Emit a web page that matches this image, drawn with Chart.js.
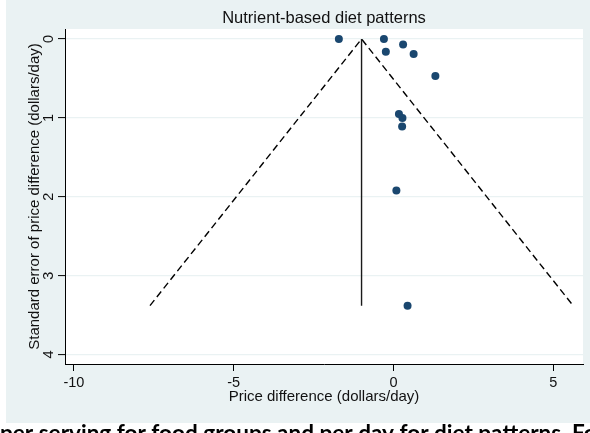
<!DOCTYPE html>
<html>
<head>
<meta charset="utf-8">
<script src="https://cdn.jsdelivr.net/npm/chart.js@4.4.1/dist/chart.umd.min.js"></script>
<style>
  html, body { margin: 0; padding: 0; background: #fff; overflow: hidden; }
  #wrap { position: relative; width: 590px; height: 433px; }
</style>
</head>
<body>
<div id="wrap"><canvas id="funnel" width="590" height="433"></canvas></div>
<script>
// funnel plot, values
const chartTitle = 'Nutrient-based diet patterns';
const xTitle = 'Price difference (dollars/day)';
const yTitle = 'Standard error of price difference (dollars/day)';
const captionText = 'per serving for food groups and per day for diet patterns. Fo';

const priceDiff = [-1.71, -0.30, 0.30, -0.24, 0.63, 1.31, 0.17, 0.28, 0.27, 0.09, 0.44];
const priceSE   = [0.00, 0.00, 0.07, 0.16, 0.19, 0.47, 0.95, 1.00, 1.11, 1.92, 3.38];

const pooledX = [-1.0, -1.0];
const pooledY = [0, 3.38];
const funnelX = [-7.62, -1.0, 5.62];
const funnelY = [3.38, 0, 3.38];

const xTicks = [-10, -5, 0, 5];
const yTicks = [0, 1, 2, 3, 4];

const FONT = '"Liberation Sans", Arial, sans-serif';
const pts = (xs, ys) => xs.map((x, i) => ({ x, y: ys[i] }));

// grey graph region, white plot region, titles and rotated y labels (Stata look)
const stataFrame = {
    id: 'stataFrame',
    beforeDraw(chart) {
        const { ctx, chartArea: a } = chart;
        ctx.save();
        ctx.fillStyle = '#fff';
        ctx.fillRect(0, 0, chart.width, chart.height);
        ctx.fillStyle = '#eaf2f3';
        ctx.fillRect(6, 0, chart.width - 6, 423);
        ctx.fillStyle = '#fff';
        ctx.fillRect(a.left, a.top, a.right - a.left, a.bottom - a.top);
        ctx.restore();
    },
    afterDraw(chart) {
        const { ctx, chartArea: a, scales } = chart;
        const cx = (a.left + a.right) / 2;
        const cy = (a.top + a.bottom) / 2;
        ctx.save();
        ctx.fillStyle = '#111';
        ctx.textAlign = 'center';
        ctx.textBaseline = 'alphabetic';

        ctx.font = `16.5px ${FONT}`;
        ctx.fillText(chartTitle, cx, 23);

        ctx.font = `15px ${FONT}`;
        ctx.fillText(xTitle, cx, 401);

        ctx.font = `14.5px ${FONT}`;
        yTicks.forEach(v => {
            const y = scales.y.getPixelForValue(v);
            ctx.save();
            ctx.translate(52.5, y);
            ctx.rotate(-Math.PI / 2);
            ctx.fillText(String(v), 0, 0);
            ctx.restore();
        });

        ctx.save();
        ctx.font = `15px ${FONT}`;
        ctx.translate(39, cy);
        ctx.rotate(-Math.PI / 2);
        ctx.fillText(yTitle, 0, 0);
        ctx.restore();

        // cropped caption line from the page below the figure
        ctx.fillStyle = '#000';
        ctx.textAlign = 'left';
        ctx.font = 'bold 20px Lato, "Open Sans", sans-serif';
        const w = ctx.measureText(captionText).width;
        const size = 20 * 597 / w;
        ctx.font = `bold ${size.toFixed(2)}px Lato, "Open Sans", sans-serif`;
        ctx.fillText(captionText, 0, 441);
        ctx.restore();
    }
};

new Chart(document.getElementById('funnel'), {
    type: 'scatter',
    data: {
        datasets: [
            {
                label: 'Studies',
                data: pts(priceDiff, priceSE),
                backgroundColor: '#1a476f',
                borderColor: '#1a476f',
                pointRadius: 4,
                pointBorderWidth: 0,
            },
            {
                label: 'Pooled estimate',
                data: pts(pooledX, pooledY),
                showLine: true,
                borderColor: '#1a1a1a',
                borderWidth: 1.4,
                pointRadius: 0,
            },
            {
                label: 'Pseudo 95% limits',
                data: pts(funnelX, funnelY),
                showLine: true,
                borderColor: '#000',
                borderWidth: 1.4,
                borderDash: [7, 4],
                pointRadius: 0,
            },
        ],
    },
    options: {
        responsive: false,
        animation: false,
        devicePixelRatio: 1,
        layout: { padding: { left: 0, top: 29, right: 7, bottom: 0 } },
        plugins: { legend: { display: false }, tooltip: { enabled: false } },
        scales: {
            x: {
                type: 'linear',
                min: -10.28,
                max: 5.93,
                afterBuildTicks: s => { s.ticks = xTicks.map(v => ({ value: v })); },
                afterFit: s => { s.height = 69; },
                grid: { drawOnChartArea: false, drawTicks: true, tickLength: 7, tickColor: '#000', tickWidth: 1 },
                border: { display: true, color: '#000', width: 1 },
                ticks: { color: '#111', font: { family: FONT, size: 14.5 }, padding: 3, maxRotation: 0, callback: v => String(v) },
            },
            y: {
                type: 'linear',
                reverse: true,
                min: -0.127,
                max: 4.12,
                afterBuildTicks: s => { s.ticks = yTicks.map(v => ({ value: v })); },
                afterFit: s => { s.width = 65; },
                grid: { color: '#eaf2f3', lineWidth: 1.2, drawTicks: true, tickLength: 7, tickColor: '#000', tickWidth: 1 },
                border: { display: true, color: '#000', width: 1 },
                ticks: { display: false },
            },
        },
    },
    plugins: [stataFrame],
});
</script>
</body>
</html>
